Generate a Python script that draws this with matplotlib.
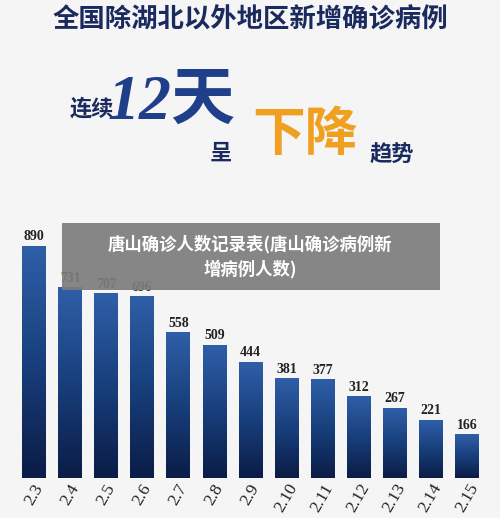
import matplotlib
matplotlib.use("Agg")
import matplotlib.pyplot as plt
import numpy as np
from matplotlib.patches import Rectangle

dates = ["2.3","2.4","2.5","2.6","2.7","2.8","2.9","2.10","2.11","2.12","2.13","2.14","2.15"]
cases = [890,731,707,696,558,509,444,381,377,312,267,221,166]

plt.rcParams['font.family'] = ['Noto Sans CJK SC', 'DejaVu Sans']
fig = plt.figure(figsize=(5.0, 5.18), dpi=100)
fig.patch.set_facecolor('#f5f5f5')

ax = fig.add_axes([0.032, 0.077, 0.938, 0.503])
ax.set_facecolor('none')
w = 0.66
grad = np.linspace(0, 1, 256).reshape(-1, 1)
cmap = matplotlib.colors.LinearSegmentedColormap.from_list('b', ['#0b1c46', '#183f7c', '#2f5f a8'.replace(' ', '')])
for i, v in enumerate(cases):
    ax.imshow(grad, extent=(i - w/2, i + w/2, 0, v), origin='lower', cmap=cmap, aspect='auto', zorder=2)
    ax.text(i, v + 12, str(v), ha='center', va='bottom', family='Liberation Serif',
            fontsize=10, fontweight='bold', color='#222222', zorder=3)
ax.set_xlim(-0.5, len(cases) - 0.5)
ax.set_ylim(0, 1000)
ax.set_xticks(range(len(cases)))
ax.set_xticklabels(dates, rotation=60, family='Liberation Serif', fontsize=12.5,
                   color='#222222', ha='center', va='top')
ax.tick_params(axis='x', length=0, pad=2)
ax.set_yticks([])
for s in ax.spines.values():
    s.set_visible(False)

navy = '#1a2a5e'
fig.text(0.5, 0.962, '全国除湖北以外地区新增确诊病例', ha='center', va='center',
         fontsize=19, fontweight='bold', color=navy)
fig.text(0.14, 0.79, '连续', ha='left', va='center', fontsize=16, fontweight='bold', color=navy)
fig.text(0.215, 0.80, '12天', ha='left', va='center', fontsize=46, fontweight='bold',
         style='italic', color='#1f3f8a', family=['Liberation Serif', 'Noto Sans CJK SC'])
fig.text(0.42, 0.705, '呈', ha='left', va='center', fontsize=16, fontweight='bold', color=navy)
fig.text(0.505, 0.74, '下降', ha='left', va='center', fontsize=38, fontweight='bold', color='#f0a020')
fig.text(0.74, 0.70, '趋势', ha='left', va='center', fontsize=16, fontweight='bold', color=navy)

fig.patches.append(Rectangle((0.124, 0.44), 0.756, 0.13, transform=fig.transFigure,
                             facecolor='#7d7d7d', alpha=0.92, zorder=5))
fig.text(0.5, 0.505, '唐山确诊人数记录表(唐山确诊病例新\n增病例人数)', ha='center', va='center',
         fontsize=12.5, fontweight='bold', color='white', zorder=6, linespacing=1.4)

fig.savefig('out.png', dpi=100, facecolor=fig.get_facecolor())
